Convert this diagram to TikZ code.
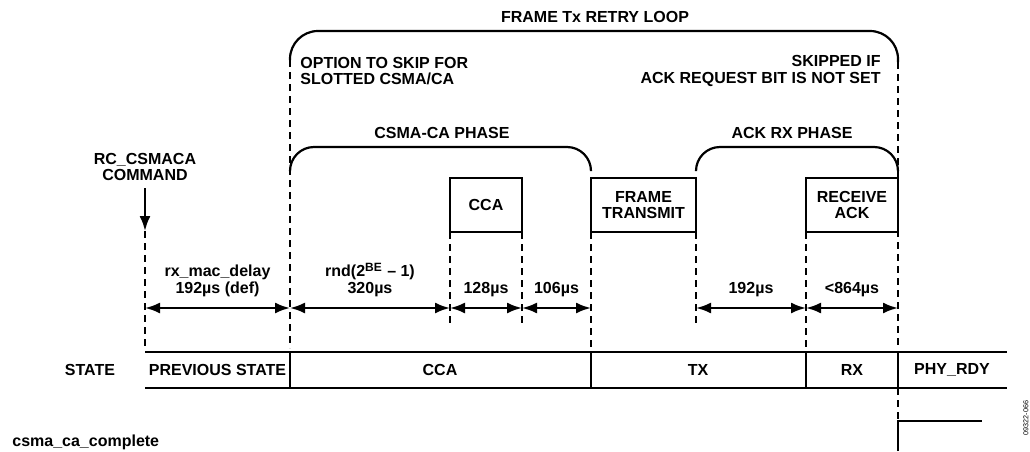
\documentclass[tikz,border=0pt]{standalone}
\usepackage{fontspec}
\setmainfont{Liberation Sans}
\usetikzlibrary{arrows.meta}
\tikzset{
  lbl/.style={font=\fontsize{8}{8.4}\selectfont\bfseries,align=center,inner sep=0pt},
  lbll/.style={lbl,align=left},
  lblr/.style={lbl,align=right},
  sbox/.style={lbl,draw,line width=1.1pt,outer sep=0pt,minimum height=27pt},
  phase/.style={line width=1.1pt,rounded corners=12pt},
  guide/.style={line width=0.7pt,dash pattern=on 3.6pt off 2.4pt},
  dim/.style={{Latex[length=7.5pt,width=5.5pt]}-{Latex[length=7.5pt,width=5.5pt]},line width=1.1pt},
  cmdarrow/.style={-{Latex[length=7.5pt,width=5.5pt]},line width=1.1pt},
  row/.style={line width=1.1pt}
}

\begin{document}
\begin{tikzpicture}[x=0.5pt,y=-0.5pt]
  \useasboundingbox (0,0) rectangle (1030,451);
  \node[lbl] (title) at (595,17) {FRAME Tx RETRY LOOP};
  \draw[phase,rounded corners=14pt] (290,60) |- (898,31) -- (898,62);
  \node[lbll,anchor=west] (skipnote) at (300,71) {OPTION TO SKIP FOR\\SLOTTED CSMA/CA};
  \node[lblr,anchor=east] (acknote) at (881,71) {SKIPPED IF\\ACK REQUEST BIT IS NOT SET};
  \node[lbl] (csmalbl) at (442,133) {CSMA-CA PHASE};
  \node[lbl] (acklbl) at (792,133) {ACK RX PHASE};
  \draw[phase] (290,170) |- (591,147) -- (591,170);
  \draw[phase] (696,170) |- (898,147) -- (898,170);
  \node[lbl] (cmd) at (145,167) {RC\_CSMACA\\COMMAND};
  \coordinate (cmdtip) at (145,231);
  \draw[cmdarrow,shorten <=3.5pt] (cmd.south) -- (cmdtip);

  \draw[guide] (cmdtip) -- (145,348);
  \draw[guide] (290,60) -- (290,348);
  \draw[guide] (898,62) -- (898,348);
  \draw[guide] (898,388) -- (898,419);

  \node[sbox,minimum width=36pt] (ccabox) at (486,205) {CCA};
  \node[sbox,minimum width=52.5pt] (txbox) at (643.5,205) {FRAME\\TRANSMIT};
  \node[sbox,minimum width=46pt] (ackbox) at (852,205) {RECEIVE\\ACK};
  \draw[guide] (ccabox.south west) -- ++(0,91);
  \draw[guide] (ccabox.south east) -- ++(0,91);
  \draw[guide] (txbox.south west) -- ++(0,116);
  \draw[guide] (txbox.south east) -- ++(0,91);
  \draw[guide] (ackbox.south west) -- ++(0,116);

  \coordinate (t0) at (145,308);
  \coordinate (t1) at (290,308);
  \coordinate (t2) at (450,308);
  \coordinate (t3) at (522,308);
  \coordinate (t4) at (591,308);
  \coordinate (t5) at (696,308);
  \coordinate (t6) at (806,308);
  \coordinate (t7) at (898,308);
  \draw[dim] (t0) -- (t1) node[lbl,midway,above=5pt] {rx\_mac\_delay\\192µs (def)};
  \draw[dim] (t1) -- (t2) node[lbl,midway,above=5pt] {rnd(2\textsuperscript{BE} – 1)\\320µs};
  \draw[dim] (t2) -- (t3) node[lbl,midway,above=5pt] {128µs};
  \draw[dim] (t3) -- (t4) node[lbl,midway,above=5pt] {106µs};
  \draw[dim] (t5) -- (t6) node[lbl,midway,above=5pt] {192µs};
  \draw[dim] (t6) -- (t7) node[lbl,midway,above=5pt] {<864µs};

  \draw[row] (145,352) -- (1007,352) (145,388) -- (1007,388);
  \foreach \x in {290,591,806,898}
    \draw[row] (\x,352) -- (\x,388);
  \node[lbl] (statelbl) at (90,370) {STATE};
  \node[lbl] (prevst) at (217.5,370) {PREVIOUS STATE};
  \node[lbl] (ccast) at (440,370) {CCA};
  \node[lbl] (txst) at (698,370) {TX};
  \node[lbl] (rxst) at (852,370) {RX};
  \node[lbl] (rdyst) at (952,370) {PHY\_RDY};

  \node[lbl,anchor=west] (done) at (12,442) {csma\_ca\_complete};
  \draw[row] (898,451) -- (898,421) -- (982,421);
  \node[font=\fontsize{3.6}{4}\selectfont,rotate=90] (figid) at (1026,418) {09322-066};
\end{tikzpicture}
\end{document}
